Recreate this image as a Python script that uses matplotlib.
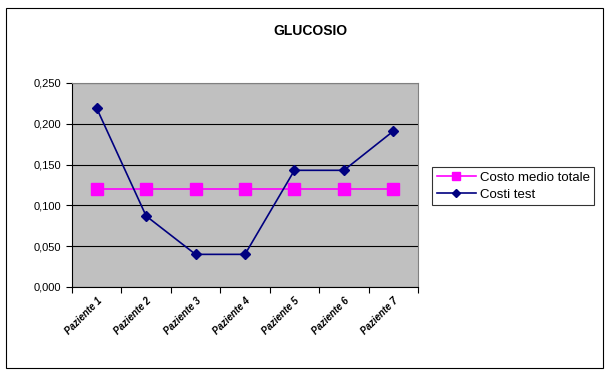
import matplotlib
matplotlib.use("Agg")
import matplotlib.pyplot as plt
from matplotlib.patches import Rectangle
from matplotlib.ticker import FuncFormatter

categories = ["Paziente 1", "Paziente 2", "Paziente 3", "Paziente 4", "Paziente 5", "Paziente 6", "Paziente 7"]
costo_medio = [0.120, 0.120, 0.120, 0.120, 0.120, 0.120, 0.120]
costi_test = [0.219, 0.087, 0.040, 0.040, 0.143, 0.143, 0.191]

plt.rcParams['font.family'] = ['Liberation Sans', 'DejaVu Sans']
fig = plt.figure(figsize=(6.07, 3.71), dpi=100)
fig.patches.append(Rectangle((6/607, 1-368/371), 597/607, 360/371, transform=fig.transFigure,
                             fill=False, edgecolor='black', linewidth=0.8))
ax = fig.add_axes([72/607, 1-287/371, 346/607, 204/371])
ax.set_facecolor('#c0c0c0')
x = list(range(len(categories)))
ax.plot(x, costo_medio, color='#ff00ff', marker='s', markersize=8, linewidth=1.2, label='Costo medio totale', zorder=3)
ax.plot(x, costi_test, color='#000080', marker='D', markersize=5, linewidth=1.2, label='Costi test', zorder=3)
ax.set_xlim(-0.5, 6.5)
ax.set_ylim(0, 0.25)
ax.set_yticks([0, 0.05, 0.10, 0.15, 0.20, 0.25])
ax.yaxis.set_major_formatter(FuncFormatter(lambda v, p: f"{v:.3f}".replace('.', ',')))
ax.grid(axis='y', color='black', linewidth=0.8)
ax.set_axisbelow(True)
ax.set_xticks([i + 0.5 for i in range(-1, 7)], minor=False)
ax.set_xticklabels([])
ax.set_xticks(x, minor=True)
ax.set_xticklabels(categories, minor=True, rotation=45, ha='right', rotation_mode='anchor', fontsize=7,
                   fontstyle='italic', fontweight='bold')
ax.tick_params(axis='x', which='minor', length=0, pad=6)
ax.tick_params(axis='x', which='major', length=4, direction='out')
ax.tick_params(axis='y', labelsize=8, length=4, direction='out')
for s in ['top', 'right']:
    ax.spines[s].set_color('#808080')
ax.spines['left'].set_color('black')
ax.spines['bottom'].set_color('black')
fig.text(310/607, 1-31/371, 'GLUCOSIO', ha='center', va='center', fontsize=10, fontweight='bold')
leg = fig.legend(loc='center left', bbox_to_anchor=(432/607, 1-186/371), fontsize=9.5, frameon=True,
                 fancybox=False, edgecolor='black', handlelength=3.0, handletextpad=0.25, borderpad=0.35,
                 labelspacing=0.35, borderaxespad=0, markerscale=0.8)
leg.get_frame().set_linewidth(0.8)
fig.savefig('out.png', dpi=100)
